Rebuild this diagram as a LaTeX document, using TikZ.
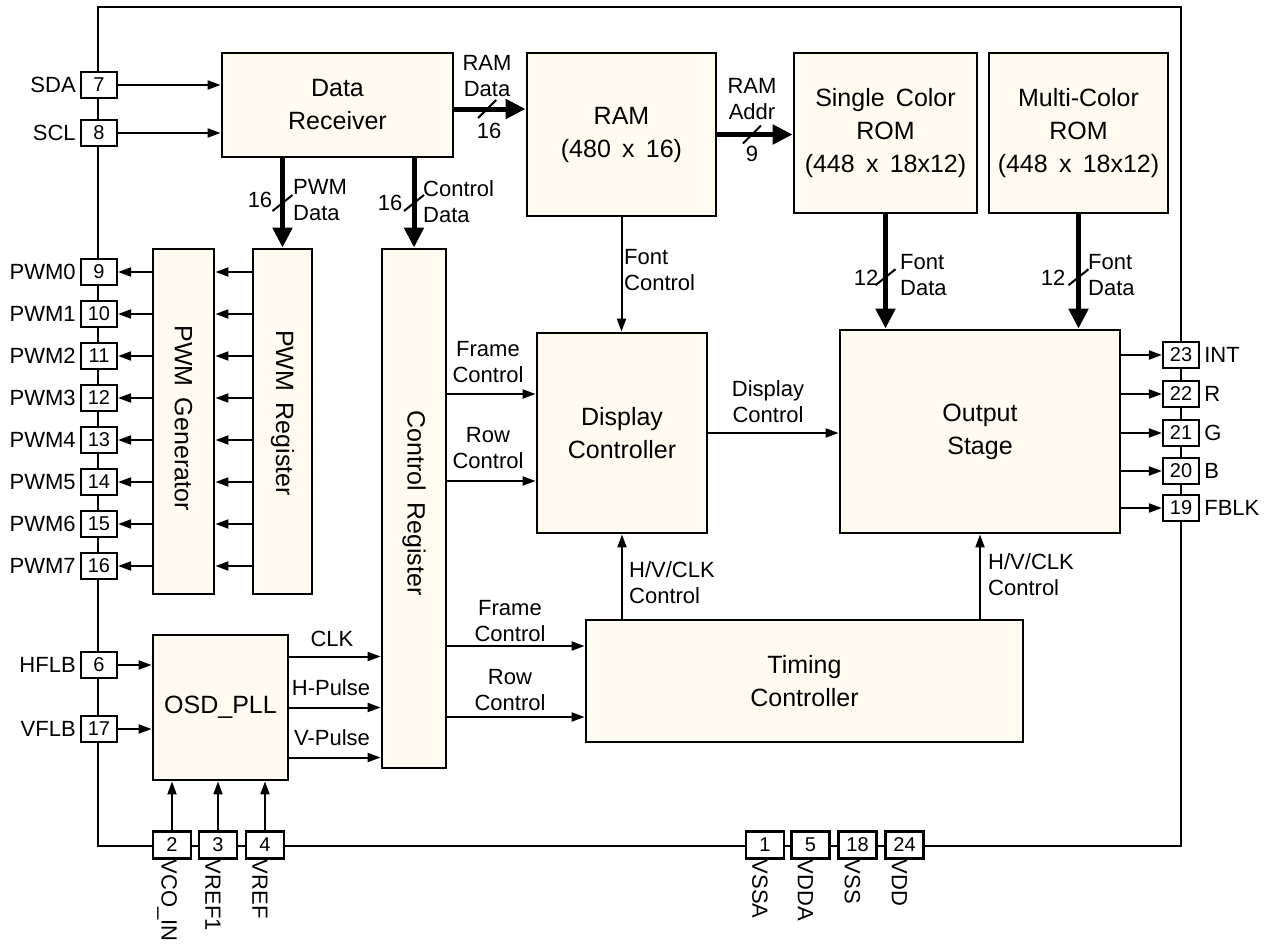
\documentclass[tikz,border=0pt]{standalone}
\usepackage{fontspec}
\setmainfont{Liberation Sans}
\usetikzlibrary{arrows.meta}
\definecolor{cream}{RGB}{255,251,240}
\newcommand{\wsp}{\hspace{0.45em}}
\begin{document}
\begin{tikzpicture}[x=1pt,y=-1pt,
  blk/.style={draw, line width=2.8pt, fill=cream, inner sep=0pt, align=center, font=\fontsize{25}{33}\selectfont},
  btxt/.style={align=center, font=\fontsize{25}{33}\selectfont, inner sep=0pt},
  lbl/.style={align=center, font=\fontsize{22}{26}\selectfont, inner sep=0pt},
  lbll/.style={align=left, font=\fontsize{22}{26}\selectfont, inner sep=0pt, anchor=west},
  pinbox/.style={draw, fill=white, line width=2.2pt, minimum width=36pt, minimum height=26pt, inner sep=0pt, font=\fontsize{20}{20}\selectfont},
  pinbot/.style={pinbox, minimum width=38pt, minimum height=27pt},
  pinlbl/.style={font=\fontsize{22}{22}\selectfont, inner sep=0pt},
  frame/.style={line width=2.4pt},
  sig/.style={line width=2pt, -{Triangle[length=13pt,width=9pt]}},
  bus/.style={line width=5pt, -{Triangle[length=20pt,width=19pt]}},
  slash/.style={line width=2pt},
]
\useasboundingbox (0,0) rectangle (1272,948);

% outer frame
\draw[frame] (98,7) rectangle (1181,846);

% left pins
\node[pinbox] (p7) at (99,85) {7};
\node[pinlbl, anchor=east, xshift=-4pt] at (p7.west) {SDA};
\node[pinbox] (p8) at (99,133) {8};
\node[pinlbl, anchor=east, xshift=-4pt] at (p8.west) {SCL};
\foreach \i/\n in {0/9,1/10,2/11,3/12,4/13,5/14,6/15,7/16} {
  \node[pinbox] (p\n) at (99,{272+42*\i}) {\n};
  \node[pinlbl, anchor=east, xshift=-4pt] at (p\n.west) {PWM\i};
}
\node[pinbox] (p6) at (99,665) {6};
\node[pinlbl, anchor=east, xshift=-4pt] at (p6.west) {HFLB};
\node[pinbox] (p17) at (99,729) {17};
\node[pinlbl, anchor=east, xshift=-4pt] at (p17.west) {VFLB};

% right pins
\foreach \n/\t/\y in {23/INT/355,22/R/394,21/G/433,20/B/471,19/FBLK/508} {
  \node[pinbox] (p\n) at (1181,\y) {\n};
  \node[pinlbl, anchor=west, xshift=4pt] at (p\n.east) {\t};
}

% bottom pins
\foreach \n/\t/\x in {2/VCO\_IN/172,3/VREF1/218,4/VREF/265,1/VSSA/765,5/VDDA/810.5,18/VSS/857.5,24/VDD/904.5} {
  \node[pinbot] (p\n) at (\x,845) {\n};
  \node[pinlbl, rotate=-90, anchor=west, yshift=-5pt] at (p\n.south) {\t};
}

% blocks
\node[blk, minimum width=231pt, minimum height=104pt] (dr) at (337.5,105) {Data\\Receiver};
\node[blk, minimum width=189pt, minimum height=163pt] (ram) at (621.5,134.5) {RAM\\(480\wsp x\wsp 16)};
\node[blk, minimum width=183pt, minimum height=160pt] (srom) at (885.5,133) {Single\wsp Color\\ROM\\(448\wsp x\wsp 18x12)};
\node[blk, minimum width=179pt, minimum height=160pt] (mrom) at (1078.5,133) {Multi-Color\\ROM\\(448\wsp x\wsp 18x12)};
\node[blk, minimum width=61pt, minimum height=345pt] (pwmg) at (183.5,421.5) {};
\node[btxt, rotate=-90] at (183.5,418) {PWM\wsp Generator};
\node[blk, minimum width=59pt, minimum height=345pt] (pwmr) at (282.5,421.5) {};
\node[btxt, rotate=-90] at (282.5,413) {PWM\wsp Register};
\node[blk, minimum width=64pt, minimum height=519pt] (creg) at (414,508.5) {};
\node[btxt, rotate=-90] at (414,503) {Control\wsp Register};
\node[blk, minimum width=170pt, minimum height=200pt] (dc) at (622,433) {Display\\Controller};
\node[blk, minimum width=280pt, minimum height=203pt] (os) at (980,431.5) {Output\\Stage};
\node[blk, minimum width=437pt, minimum height=122pt] (tc) at (804.5,681) {Timing\\Controller};
\node[blk, minimum width=135pt, minimum height=145pt] (osd) at (220.5,707.5) {OSD\_PLL};

% input pins to data receiver
\draw[sig] (p7.east) -- (p7.east -| dr.west);
\draw[sig] (p8.east) -- (p8.east -| dr.west);

% RAM data bus
\coordinate (drb) at ([yshift=-4pt]dr.east);
\draw[bus] (drb) -- coordinate[pos=0.46] (sA) (drb -| ram.west);
\draw[slash] (sA) +(-9,9) -- +(9,-9);
\node[lbl] at (487,76) {RAM\\Data};
\node[lbl] at (489,131) {16};

% RAM addr bus
\draw[bus] (ram.east) -- coordinate[pos=0.46] (sE) (ram.east -| srom.west);
\draw[slash] (sE) +(-9,9) -- +(9,-9);
\node[lbl] at (752,99) {RAM\\Addr};
\node[lbl] at (752,154) {9};

% PWM data bus
\draw[bus] (pwmr.north |- dr.south) -- coordinate[pos=0.5] (sB) (pwmr.north);
\draw[slash] (sB) +(-10,8) -- +(10,-8);
\node[lbl] at (260,200) {16};
\node[lbll] at (293,200) {PWM\\Data};

% Control data bus
\draw[bus] (creg.north |- dr.south) -- coordinate[pos=0.5] (sC) (creg.north);
\draw[slash] (sC) +(-10,8) -- +(10,-8);
\node[lbl] at (390,203) {16};
\node[lbll] at (423,202) {Control\\Data};

% PWM register -> generator -> pins
\foreach \n in {9,10,11,12,13,14,15,16} {
  \draw[sig] (pwmr.west |- p\n) -- (pwmg.east |- p\n);
  \draw[sig] (pwmg.west |- p\n) -- (p\n.east);
}

% font control
\draw[sig] (ram.south) -- (ram.south |- dc.north);
\node[lbll] at (624,270) {Font\\Control};

% font data buses
\draw[bus] (srom.south) -- coordinate[pos=0.55] (sD) (srom.south |- os.north);
\draw[slash] (sD) +(-10,8) -- +(10,-8);
\node[lbl] at (866,278) {12};
\node[lbll] at (900,275) {Font\\Data};
\draw[bus] (mrom.south) -- coordinate[pos=0.55] (sF) (mrom.south |- os.north);
\draw[slash] (sF) +(-10,8) -- +(10,-8);
\node[lbl] at (1053,278) {12};
\node[lbll] at (1088,275) {Font\\Data};

% control register -> display controller
\coordinate (dcf) at ([yshift=39pt]dc.west);
\coordinate (dcr) at ([yshift=-48pt]dc.west);
\draw[sig] (creg.east |- dcf) -- (dcf);
\draw[sig] (creg.east |- dcr) -- (dcr);
\node[lbl] at (488,362) {Frame\\Control};
\node[lbl] at (488,448) {Row\\Control};

% display controller -> output stage
\draw[sig] (dc.east) -- (dc.east -| os.west);
\node[lbl] at (768,402) {Display\\Control};

% timing controller -> display controller / output stage
\draw[sig] (dc.south |- tc.north) -- (dc.south);
\node[lbll] at (629,583) {H/V/CLK\\Control};
\draw[sig] (os.south |- tc.north) -- (os.south);
\node[lbll] at (988,575) {H/V/CLK\\Control};

% control register -> timing controller
\coordinate (tcf) at ([yshift=35pt]tc.west);
\coordinate (tcr) at ([yshift=-36pt]tc.west);
\draw[sig] (creg.east |- tcf) -- (tcf);
\draw[sig] (creg.east |- tcr) -- (tcr);
\node[lbl] at (510,621) {Frame\\Control};
\node[lbl] at (510,690) {Row\\Control};

% OSD_PLL -> control register
\coordinate (oc) at ([yshift=51pt]osd.east);
\coordinate (oh) at (osd.east);
\coordinate (ov) at ([yshift=-50pt]osd.east);
\draw[sig] (oc) -- (oc -| creg.west);
\draw[sig] (oh) -- (oh -| creg.west);
\draw[sig] (ov) -- (ov -| creg.west);
\node[lbl] at (332,639) {CLK};
\node[lbl] at (331,688) {H-Pulse};
\node[lbl] at (332,738) {V-Pulse};

% pins -> OSD_PLL
\draw[sig] (p6.east) -- (p6.east -| osd.west);
\draw[sig] (p17.east) -- (p17.east -| osd.west);
\draw[sig] (p2.north) -- (p2.north |- osd.south);
\draw[sig] (p3.north) -- (p3.north |- osd.south);
\draw[sig] (p4.north) -- (p4.north |- osd.south);

% output stage -> pins
\foreach \n in {23,22,21,20,19} {
  \draw[sig] (os.east |- p\n) -- (p\n.west);
}
\end{tikzpicture}
\end{document}
